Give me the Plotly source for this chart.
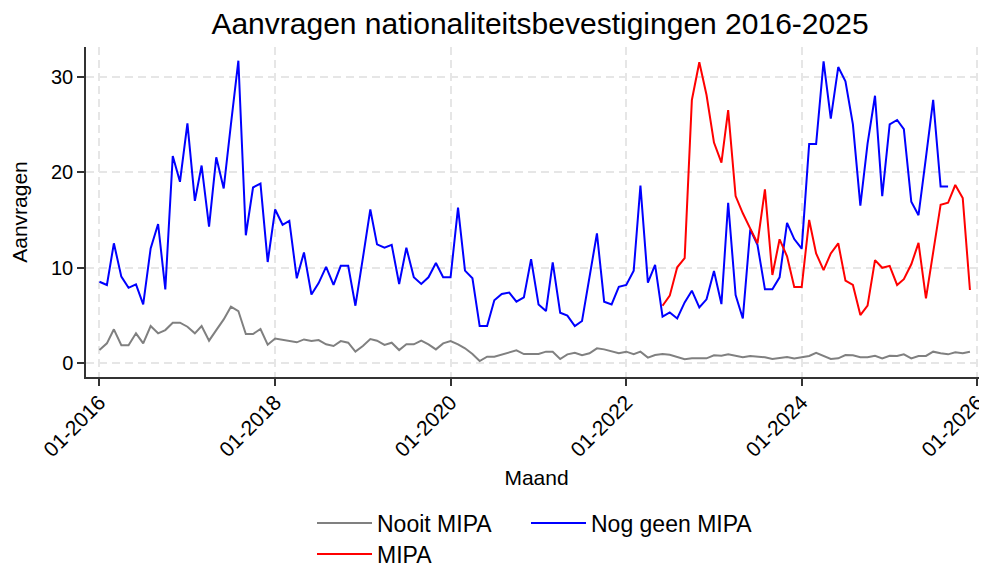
import pandas as pd
import plotly.graph_objects as go

# Maandelijkse aanvragen, jan 2016 t/m dec 2025
nooit_mipa = [
    1.39, 2.09, 3.56, 1.90, 1.90, 3.14, 2.09, 3.90, 3.14, 3.48, 4.25, 4.25,
    3.83, 3.14, 3.90, 2.37, 3.48, 4.60, 5.93, 5.47, 3.07, 3.07, 3.59, 1.95,
    2.60, 2.44, 2.33, 2.20, 2.50, 2.33, 2.44, 1.99, 1.81, 2.33, 2.16, 1.22,
    1.81, 2.54, 2.37, 1.92, 2.16, 1.39, 1.99, 1.99, 2.37, 1.99, 1.46, 2.09,
    2.33, 1.99, 1.57, 0.97, 0.24, 0.69, 0.69, 0.94, 1.11, 1.36, 0.97, 0.97,
    0.97, 1.22, 1.22, 0.45, 0.94, 1.11, 0.84, 1.05, 1.57, 1.46, 1.22, 1.05,
    1.22, 0.95, 1.22, 0.60, 0.87, 0.97, 0.90, 0.63, 0.42, 0.52, 0.50, 0.52,
    0.84, 0.80, 0.94, 0.77, 0.63, 0.77, 0.73, 0.63, 0.45, 0.52, 0.66, 0.50,
    0.65, 0.77, 1.11, 0.77, 0.45, 0.52, 0.87, 0.84, 0.63, 0.63, 0.80, 0.52,
    0.80, 0.77, 0.94, 0.52, 0.77, 0.77, 1.22, 1.05, 0.94, 1.15, 1.05, 1.22,
]

# jan 2016 t/m sep 2025
nog_geen_mipa = [
    8.54, 8.20, 12.56, 9.07, 7.90, 8.27, 6.17, 12.03, 14.58, 7.74, 21.70, 19.00,
    25.10, 17.00, 20.70, 14.30, 21.56, 18.30, 25.00, 31.67, 13.40, 18.40, 18.80, 10.60,
    16.10, 14.50, 14.90, 8.90, 11.60, 7.20, 8.40, 10.10, 8.20, 10.20, 10.20, 6.03,
    11.00, 16.10, 12.45, 12.10, 12.40, 8.30, 12.10, 9.00, 8.30, 9.00, 10.50, 9.00,
    9.00, 16.30, 9.70, 8.90, 3.90, 3.90, 6.60, 7.25, 7.40, 6.45, 6.90, 10.90,
    6.17, 5.47, 10.57, 5.30, 5.00, 3.90, 4.43, 9.07, 13.60, 6.45, 6.17, 8.00,
    8.20, 9.70, 18.60, 8.44, 10.30, 4.88, 5.33, 4.70, 6.38, 7.60, 5.86, 6.70,
    9.66, 6.20, 16.80, 7.15, 4.70, 14.00, 12.40, 7.74, 7.74, 9.00, 14.70, 13.00,
    12.00, 22.95, 22.95, 31.60, 25.60, 31.00, 29.50, 25.00, 16.50, 23.00, 28.00, 17.50,
    25.00, 25.46, 24.50, 16.90, 15.50, 21.56, 27.56, 18.50, 18.50,
]

# jun 2022 t/m dec 2025
mipa = [
    6.03, 7.08, 10.05, 11.00, 27.56, 31.50, 28.08,
    23.10, 21.00, 26.50, 17.50, 15.70, 14.10, 12.56, 18.20, 9.24, 12.98, 11.20, 8.00,
    8.00, 15.00, 11.50, 9.76, 11.50, 12.56, 8.65, 8.20, 5.05, 6.03, 10.80, 10.00,
    10.20, 8.20, 8.80, 10.36, 12.60, 6.80, 11.70, 16.60, 16.80, 18.66, 17.30, 7.67,
]

maanden = pd.date_range("2016-01-01", periods=len(nooit_mipa), freq="MS")
maanden_mipa = pd.date_range("2022-06-01", periods=len(mipa), freq="MS")

font = "Liberation Sans, Arial, sans-serif"
# de pagina heeft 8px body-marge, dus figuur iets kleiner en alles 8px opgeschoven
W, H = 979, 559

fig = go.Figure()
fig.add_trace(go.Scatter(x=maanden, y=nooit_mipa, name="Nooit MIPA", mode="lines",
                         line=dict(color="#808080", width=2), legend="legend"))
fig.add_trace(go.Scatter(x=maanden[:len(nog_geen_mipa)], y=nog_geen_mipa, name="Nog geen MIPA",
                         mode="lines", line=dict(color="blue", width=2), legend="legend2"))
fig.add_trace(go.Scatter(x=maanden_mipa, y=mipa, name="MIPA", mode="lines",
                         line=dict(color="red", width=2), legend="legend3"))

as_stijl = dict(
    showline=True, linecolor="#333333", linewidth=1.5,
    ticks="outside", ticklen=7, tickwidth=1.5, tickcolor="#333333",
    showgrid=True, gridcolor="#e6e6e6", gridwidth=1.5, griddash="8px,5px",
    zeroline=False,
)

legend_stijl = dict(orientation="h", xref="container", yref="container", xanchor="left",
                    yanchor="middle", font=dict(size=23), itemwidth=55,
                    bgcolor="rgba(0,0,0,0)")

fig.update_layout(
    width=W, height=H,
    margin=dict(l=78, r=0, t=39, b=190, autoexpand=False),
    paper_bgcolor="white", plot_bgcolor="white",
    font=dict(family=font, color="black"),
    showlegend=True,
    title=dict(text="Aanvragen nationaliteitsbevestigingen 2016-2025", font=dict(size=30),
               x=532 / W, xref="container", xanchor="center", y=1 - 15 / H, yref="container",
               yanchor="middle"),
    xaxis=dict(
        **as_stijl, range=["2015-11-06", "2026-02-10"], tick0="2016-01-01", dtick="M24",
        tickformat="%m-%Y", tickangle=-45, ticklabeloverflow="allow",
        tickfont=dict(size=21, color="black"), ticklabelstandoff=-4,
        title=dict(text="Maand", font=dict(size=21), standoff=10),
    ),
    yaxis=dict(
        **as_stijl, range=[-1.43, 33.1], tickvals=[0, 10, 20, 30],
        tickfont=dict(size=20, color="black"),
        title=dict(text="Aanvragen", font=dict(size=21), standoff=19),
    ),
    legend=dict(**legend_stijl, x=304 / W, y=1 - 515 / H),
    legend2=dict(**legend_stijl, x=518 / W, y=1 - 515 / H),
    legend3=dict(**legend_stijl, x=304 / W, y=1 - 546 / H),
)

fig.write_html("out.html")
